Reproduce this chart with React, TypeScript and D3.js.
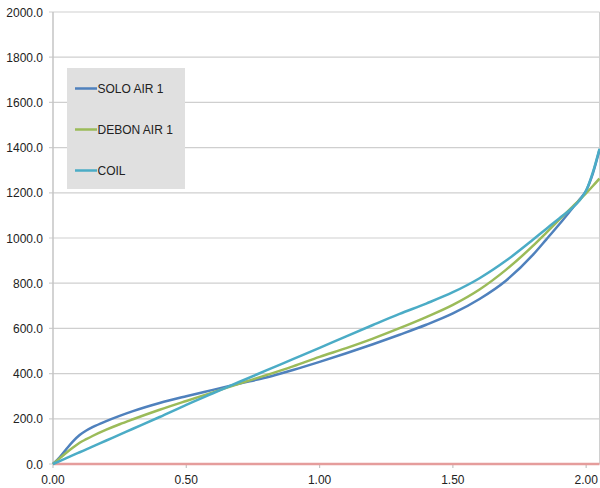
import React from "react";
import * as d3 from "d3";

const xValues = [0, 0.025, 0.05, 0.075, 0.1, 0.125, 0.15, 0.2, 0.25, 0.3, 0.4, 0.5, 0.6, 0.7, 0.8, 0.9, 1.0, 1.1, 1.2, 1.3, 1.4, 1.5, 1.6, 1.7, 1.8, 1.85, 1.9, 1.95, 1.975, 2.0, 2.025, 2.05];

const soloAir1 = [0, 30, 66, 100, 128, 148, 164, 190, 213, 234, 270, 300, 328, 356, 383, 416, 452, 490, 530, 572, 616, 666, 730, 812, 925, 993, 1062, 1134, 1170, 1210, 1285, 1390];
const debonAir1 = [0, 25, 50, 73, 94, 110, 125, 152, 176, 198, 240, 279, 317, 356, 393, 432, 474, 513, 555, 601, 650, 704, 772, 860, 965, 1023, 1082, 1140, 1168, 1198, 1230, 1263];
const coil = [0, 13, 26, 39, 52, 65, 78, 104, 130, 156, 208, 262, 313, 364, 414, 464, 514, 565, 615, 664, 710, 760, 822, 900, 992, 1040, 1088, 1135, 1166, 1210, 1290, 1395];
const baseline = xValues.map(() => 0);

const yTicks = [0, 200, 400, 600, 800, 1000, 1200, 1400, 1600, 1800, 2000];
const xTicks = [0, 0.5, 1.0, 1.5, 2.0];

const seriesNames = ["SOLO AIR 1", "DEBON AIR 1", "COIL"];
const seriesColors = ["#4f81bd", "#9bbb59", "#4bacc6"];
const seriesData = [soloAir1, debonAir1, coil];

export default function App() {
  const width = 600;
  const height = 488;
  const x = d3.scaleLinear().domain([0, 2.05]).range([53, 599.5]);
  const y = d3.scaleLinear().domain([0, 2000]).range([464, 12]);

  const line = (vals: number[]) =>
    d3
      .line<number>()
      .x((_, i) => x(xValues[i]))
      .y((d) => y(d))
      .curve(d3.curveMonotoneX)(vals) || "";

  const font = "'Liberation Sans', Arial, Helvetica, sans-serif";

  return (
    <svg
      width={width}
      height={height}
      style={{ position: "absolute", left: 0, top: 0, background: "#fff" }}
      fontFamily={font}
    >
      {yTicks.map((t) => (
        <line key={"g" + t} x1={49} x2={599.5} y1={y(t)} y2={y(t)} stroke="#cfcfcf" strokeWidth={1.2} />
      ))}
      <line x1={599.5} x2={599.5} y1={y(2000)} y2={y(0)} stroke="#d0d0d0" strokeWidth={1} />
      <line x1={53} x2={53} y1={y(2000)} y2={y(0)} stroke="#c4c4c4" strokeWidth={1.5} />
      {xTicks.map((t) => (
        <line key={"xt" + t} x1={x(t)} x2={x(t)} y1={464} y2={468} stroke="#c4c4c4" strokeWidth={1.2} />
      ))}
      {yTicks.map((t) => (
        <text key={"yl" + t} x={43} y={y(t) + 4.5} textAnchor="end" fontSize={12} fill="#222">
          {d3.format(".1f")(t)}
        </text>
      ))}
      {xTicks.map((t) => (
        <text key={"xl" + t} x={x(t)} y={484} textAnchor="middle" fontSize={12} fill="#222">
          {d3.format(".2f")(t)}
        </text>
      ))}
      <path d={line(baseline)} fill="none" stroke="#e59d9c" strokeWidth={2.5} />
      {seriesData.map((s, i) => (
        <path key={seriesNames[i]} d={line(s)} fill="none" stroke={seriesColors[i]} strokeWidth={2.5} strokeLinejoin="round" />
      ))}
      <rect x={67} y={68} width={118} height={121} fill="#e0e0e0" />
      {seriesNames.map((n, i) => {
        const ly = 88.5 + i * 41;
        return (
          <g key={"lg" + n}>
            <line x1={75} x2={97} y1={ly} y2={ly} stroke={seriesColors[i]} strokeWidth={2.5} />
            <text x={97.5} y={ly + 4.5} fontSize={12} fill="#222">
              {n}
            </text>
          </g>
        );
      })}
    </svg>
  );
}
